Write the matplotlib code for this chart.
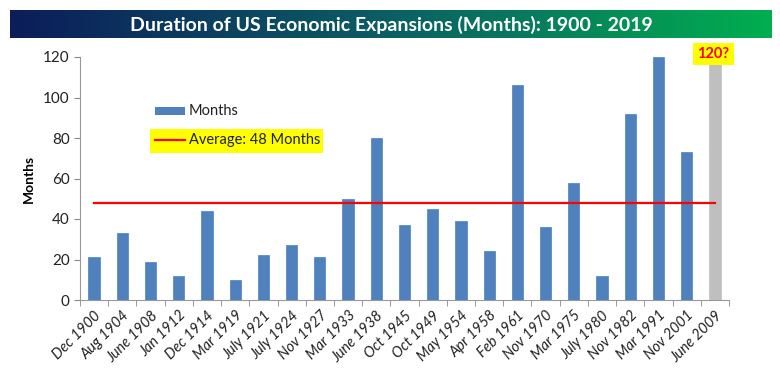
import matplotlib
matplotlib.use("Agg")
import matplotlib.pyplot as plt
import numpy as np
from matplotlib.patches import Rectangle
from matplotlib.lines import Line2D
from matplotlib.colors import LinearSegmentedColormap

categories = ["Dec 1900", "Aug 1904", "June 1908", "Jan 1912", "Dec 1914", "Mar 1919",
              "July 1921", "July 1924", "Nov 1927", "Mar 1933", "June 1938", "Oct 1945",
              "Oct 1949", "May 1954", "Apr 1958", "Feb 1961", "Nov 1970", "Mar 1975",
              "July 1980", "Nov 1982", "Mar 1991", "Nov 2001", "June 2009"]
months = [21, 33, 19, 12, 44, 10, 22, 27, 21, 50, 80, 37, 45, 39, 24, 106, 36, 58, 12, 92, 120, 73, 120]
average = 48
yticks = [0, 20, 40, 60, 80, 100, 120]

plt.rcParams['font.family'] = ['Lato', 'DejaVu Sans']

fig = plt.figure(figsize=(7.8, 3.84), dpi=100)

# title banner with gradient
bax = fig.add_axes([10/780, 1-38/384, 762/780, 28/384])
grad = np.linspace(0, 1, 256).reshape(1, -1)
cmap = LinearSegmentedColormap.from_list("g", ["#0b1d5a", "#0b5f64", "#00ae4f"])
bax.imshow(grad, aspect='auto', cmap=cmap, extent=[0, 1, 0, 1])
bax.set_axis_off()
bax.text(0.5, 0.48, "Duration of US Economic Expansions (Months): 1900 - 2019",
         color='white', fontsize=14, fontweight='bold', ha='center', va='center',
         transform=bax.transAxes)

ax = fig.add_axes([80/780, 1-300/384, 649/780, 243/384])
x = np.arange(len(categories))
colors = ["#4f81bd"] * (len(categories) - 1) + ["#bfbfbf"]
ax.bar(x, months, width=0.4, color=colors, edgecolor=colors, linewidth=0.5, zorder=2)
ax.plot([x[0], x[-1]], [average, average], color="#ff0000", linewidth=1.6, zorder=3)

ax.set_xlim(-0.5, len(categories) - 0.5)
ax.set_ylim(0, 120)
ax.set_yticks(yticks)
ax.tick_params(axis='y', labelsize=11, length=4, color='#888888', colors='#222222')
ax.set_xticks(x)
ax.set_xticklabels(categories, rotation=45, ha='right', rotation_mode='anchor',
                   fontsize=10.5, style='italic', color='#222222')
ax.set_xticks(np.arange(-0.5, len(categories) + 0.5, 1), minor=True)
ax.tick_params(axis='x', which='major', length=0, pad=6)
ax.tick_params(axis='x', which='minor', length=4, color='#888888')
for s in ['top', 'right']:
    ax.spines[s].set_visible(False)
for s in ['left', 'bottom']:
    ax.spines[s].set_color('#999999')
ax.set_ylabel("Months", fontsize=10, fontweight='bold', labelpad=6)

# manual legend (axes-fraction coordinates)
ax.add_patch(Rectangle((0.108, 0.605), 0.267, 0.099, transform=ax.transAxes,
                       facecolor='#ffff00', edgecolor='none', zorder=1, clip_on=False))
ax.add_patch(Rectangle((0.116, 0.762), 0.046, 0.034, transform=ax.transAxes,
                       facecolor='#4f81bd', edgecolor='none', zorder=4))
ax.add_line(Line2D([0.116, 0.162], [0.658, 0.658], transform=ax.transAxes,
                   color='#ff0000', linewidth=1.6, zorder=4))
ax.text(0.168, 0.779, "Months", transform=ax.transAxes, fontsize=10.5,
        va='center', ha='left', color='#222222', zorder=4)
ax.text(0.168, 0.658, "Average: 48 Months", transform=ax.transAxes, fontsize=10.5,
        va='center', ha='left', color='#222222', zorder=4)

ax.text(x[-1] - 0.05, 121.5, "120?", color='#ff0000', fontsize=10.5, fontweight='bold',
        ha='center', va='center', zorder=5,
        bbox=dict(boxstyle='square,pad=0.3', facecolor='#ffff00', edgecolor='none'),
        clip_on=False)

fig.savefig("out.png", dpi=100)
